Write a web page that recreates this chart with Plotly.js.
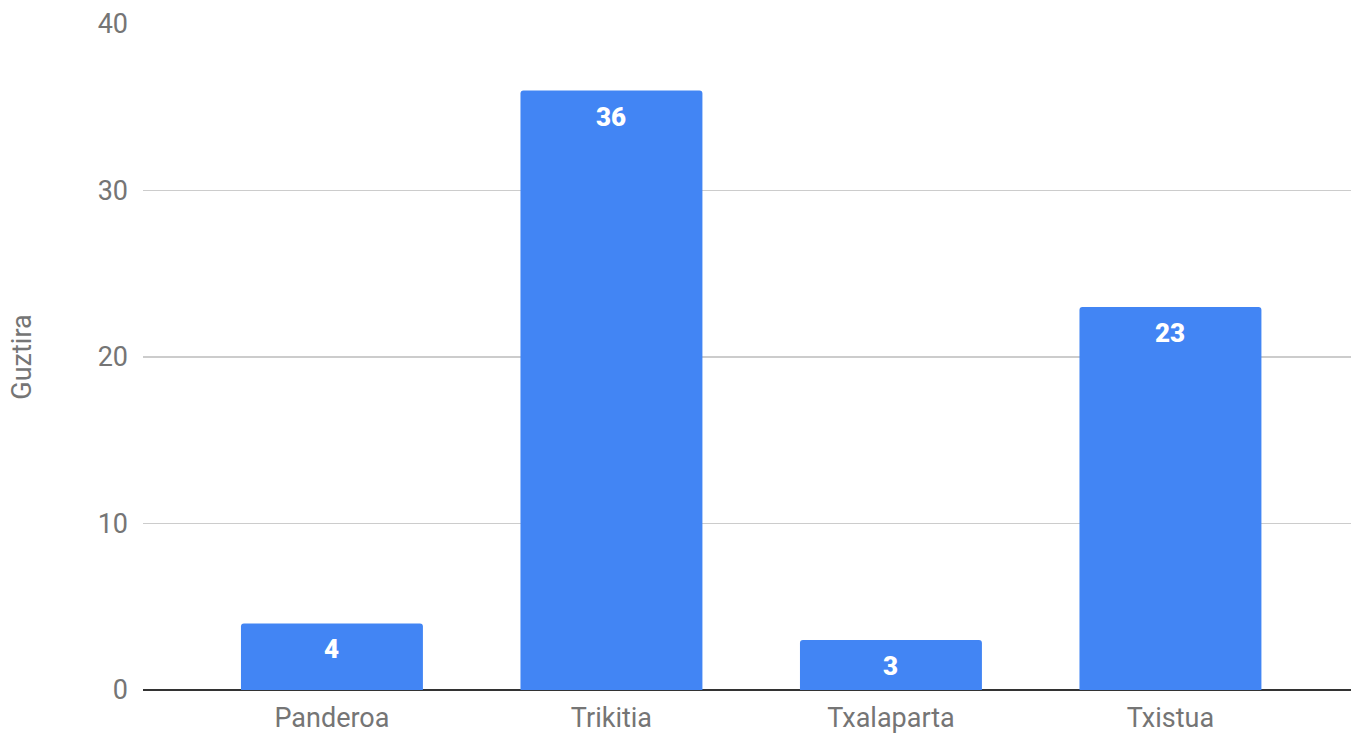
<!DOCTYPE html>
<html><head><meta charset="utf-8">
<script src="https://cdn.plot.ly/plotly-3.0.1.min.js"></script>
<style>html,body{margin:0;padding:0;background:#fff}#chart{width:1351px;height:733px}</style>
</head><body><div id="chart"></div>
<script>
var categories = ["Panderoa", "Trikitia", "Txalaparta", "Txistua"];
var values = [4, 36, 3, 23];
var yTicks = [0, 10, 20, 30, 40];

var trace = {
  type: 'bar', x: categories, y: values,
  marker: {color: '#4285F4', cornerradius: 3},
  hoverinfo: 'x+y'
};
var annotations = categories.map(function(c, i){
  return {x: c, y: values[i], xref: 'x', yref: 'y', text: String(values[i]),
    showarrow: false, yanchor: 'top', yshift: -9,
    font: {family: 'Roboto', size: 26, color: '#ffffff', weight: 900}};
});
var layout = {
  width: 1351, height: 733,
  margin: {l: 143, r: 0, t: 24, b: 43},
  paper_bgcolor: '#fff', plot_bgcolor: '#fff',
  bargap: 0.349,
  showlegend: false,
  font: {family: 'Roboto', size: 27, color: '#757575'},
  xaxis: {range: [-0.676, 3.646], showgrid: false, showline: false, zeroline: false,
    ticks: '', ticklabelstandoff: 9, tickfont: {family: 'Roboto', size: 27, color: '#757575'}, fixedrange: true},
  yaxis: {range: [0, 40], tickvals: yTicks, ticktext: yTicks.map(String),
    showgrid: true, gridcolor: '#cccccc', gridwidth: 1.5,
    zeroline: true, zerolinecolor: '#333333', zerolinewidth: 2,
    ticks: '', ticklabelstandoff: 14,
    tickfont: {family: 'Roboto', size: 27, color: '#757575'},
    title: {text: 'Guztira', standoff: 58, font: {family: 'Roboto', size: 27, color: '#757575'}},
    fixedrange: true},
  annotations: annotations
};
Plotly.newPlot('chart', [trace], layout, {displayModeBar: false, staticPlot: true});
</script></body></html>
